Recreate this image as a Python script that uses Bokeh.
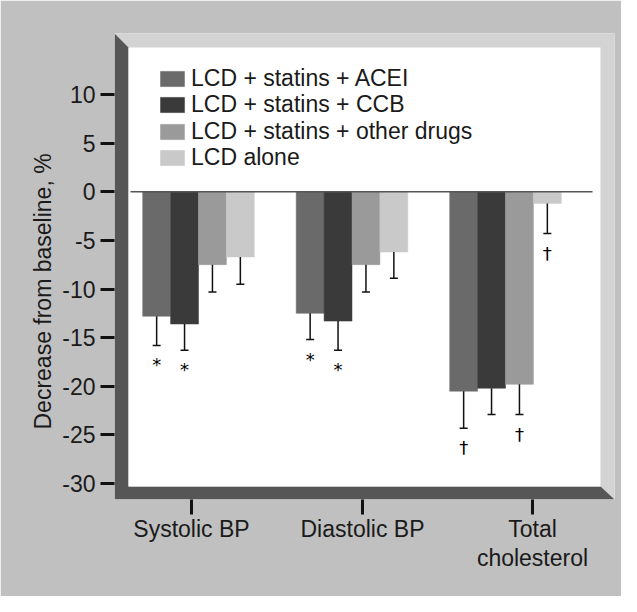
import numpy as np
from bokeh.plotting import figure
from bokeh.models import (Range1d, FixedTicker, ColumnDataSource,
                          Legend, LegendItem, Title)
from bokeh.embed import file_html
from bokeh.resources import INLINE
from bokeh.core.properties import value

# ---------------- data ----------------
categories = ["Systolic BP", "Diastolic BP", "Total\ncholesterol"]
series = ["LCD + statins + ACEI", "LCD + statins + CCB",
          "LCD + statins + other drugs", "LCD alone"]
acei = [-12.8, -12.5, -20.5]
acei_err = [3.0, 2.7, 3.8]
ccb = [-13.6, -13.3, -20.2]
ccb_err = [2.7, 3.0, 2.7]
other = [-7.5, -7.5, -19.8]
other_err = [2.8, 2.8, 3.1]
alone = [-6.7, -6.2, -1.2]
alone_err = [2.8, 2.7, 3.1]
acei_sig = ["*", "*", "\u2020"]
ccb_sig = ["*", "*", ""]
other_sig = ["", "", "\u2020"]
alone_sig = ["", "", "\u2020"]
y_ticks = [10, 5, 0, -5, -10, -15, -20, -25, -30]

values = [acei, ccb, other, alone]
errors = [acei_err, ccb_err, other_err, alone_err]
sigs = [acei_sig, ccb_sig, other_sig, alone_sig]
colors = ["#6a6a6a", "#3a3a3a", "#9a9a9a", "#c9c9c9"]

# ---------------- layout (page pixel geometry) ----------------
GROUP_PX = 153.5      # px between group centres
GROUP0_PX = 206.0     # page x of first group centre
ZERO_PX = 199.2       # page y of value 0
UNIT_PX = 9.73        # px per % unit
FRAME_BOTTOM = 499    # canvas y of frame bottom
FRAME_LEFT = 114      # canvas x of frame left


def xd(px):
    return (px - GROUP0_PX) / GROUP_PX


def yd(py):
    return (ZERO_PX - py) / UNIT_PX


FONT = "Liberation Sans"
FS = "23px"
TXT = "#1a1a1a"
BAR_W = 27.9 / GROUP_PX
CAP = 4.0 / GROUP_PX
offsets = [-1.5, -0.5, 0.5, 1.5]

p = figure(frame_width=500, frame_height=466,
           min_border_left=FRAME_LEFT, min_border_right=7,
           min_border_top=33, min_border_bottom=97,
           x_range=Range1d(xd(122), xd(622)), y_range=Range1d(yd(507), yd(41)),
           output_backend="svg", toolbar_location=None)
p.border_fill_color = "#c0c0c0"
p.background_fill_color = "#d3d3d3"
p.outline_line_color = None
p.grid.visible = False

# bevelled frame
p.patch([xd(122), xd(136), xd(136), xd(608), xd(622), xd(122)],
        [yd(41), yd(55), yd(494), yd(494), yd(507), yd(507)],
        fill_color="#565656", line_color=None)
p.quad(left=[xd(136)], right=[xd(608)], top=[yd(55)], bottom=[yd(494)],
       fill_color="white", line_color=None)

# bars, error bars, significance marks
bar_renderers = []
for i, (vals, errs, sg, col) in enumerate(zip(values, errors, sigs, colors)):
    xs = [g + offsets[i] * BAR_W for g in range(len(categories))]
    lows = [v - e for v, e in zip(vals, errs)]
    src = ColumnDataSource(dict(x=xs, x0=[x - CAP for x in xs], x1=[x + CAP for x in xs],
                                top=[0] * len(vals), bottom=vals, lower=lows, sig=sg))
    r = p.vbar(x="x", width=BAR_W, top="top", bottom="bottom", source=src,
               fill_color=col, line_color=col, line_width=0.5)
    bar_renderers.append(r)
    p.segment(x0="x", x1="x", y0="bottom", y1="lower", source=src,
              line_color="#111111", line_width=1.5)
    p.segment(x0="x0", x1="x1", y0="lower", y1="lower", source=src,
              line_color="#111111", line_width=1.5)
    p.text(x="x", y="lower", text="sig", source=src, text_align="center",
           text_baseline="top", y_offset=9, text_font=value("DejaVu Sans"),
           text_font_size="18px", text_color="#000000")

# zero line
p.segment(x0=[xd(138)], x1=[xd(600)], y0=[0], y1=[0], line_color="#555555", line_width=1.5)

# legend: one row per entry so the rows sit as tightly as in the original
ROW_CENTERS = [79, 105.5, 132, 158.5]   # canvas y of each legend row
ITEM_H = 25.7
for name, r, c in zip(series, bar_renderers, ROW_CENTERS):
    lg = Legend(items=[LegendItem(label=name, renderers=[r])],
                location=(43, FRAME_BOTTOM - c - ITEM_H / 2), padding=0, margin=0,
                border_line_color=None, background_fill_alpha=0,
                glyph_width=30, glyph_height=19, label_standoff=4,
                label_height=19, spacing=0,
                label_text_font=FONT, label_text_font_size=FS,
                label_text_color=TXT)
    p.add_layout(lg)

# axes
tick_pos = [xd(199), xd(370), xd(540)]
p.xaxis.ticker = FixedTicker(ticks=tick_pos)
p.xaxis.major_label_overrides = {t: c for t, c in zip(tick_pos, categories)}
p.yaxis.ticker = FixedTicker(ticks=y_ticks)
p.yaxis.major_label_overrides = {t: str(t) for t in y_ticks}
for ax in (p.xaxis, p.yaxis):
    ax.axis_line_color = None
    ax.minor_tick_line_color = None
    ax.major_tick_in = 0
    ax.major_tick_line_width = 3
    ax.major_tick_line_color = "#111111"
    ax.major_label_text_font = FONT
    ax.major_label_text_font_size = FS
    ax.major_label_text_color = TXT
p.xaxis.major_label_text_line_height = 1.13
p.yaxis.major_tick_out = 14
p.yaxis.major_label_standoff = 5
p.xaxis.major_tick_out = 15
p.xaxis.major_label_standoff = 1

# y-axis title (rotated, placed as in the original)
p.add_layout(Title(text="Decrease from baseline, %", align="left", offset=70,
                   standoff=8, text_font=FONT, text_font_size=FS,
                   text_font_style="normal", text_color=TXT), "left")

open("out.html", "w").write(file_html(p, INLINE))
